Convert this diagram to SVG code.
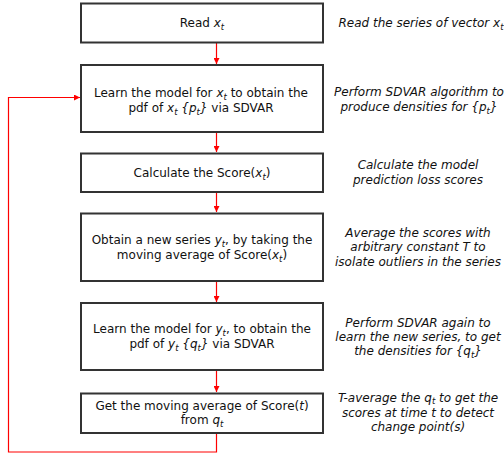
<svg xmlns="http://www.w3.org/2000/svg" width="504" height="455" viewBox="0 0 504 455">
<style>
.box{fill:#fff;stroke:#333;stroke-width:2}
text{font-family:"DejaVu Sans",Verdana,sans-serif;font-size:12px;fill:#111;text-anchor:middle}
.note{font-style:italic}
.i{font-style:italic}
.s{font-size:8.5px;font-style:italic}
.con{fill:none;stroke:#f00;stroke-width:1.2}
</style>
<defs>
<marker id="ah" viewBox="0 0 8 8" refX="8" refY="4" markerWidth="6" markerHeight="6" orient="auto" markerUnits="userSpaceOnUse">
<path d="M0,0 L8,4 L0,8 z" fill="#f00"/>
</marker>
</defs>
<g id="connectors">
<line class="con" x1="216.5" y1="43" x2="216.5" y2="64" marker-end="url(#ah)"/>
<line class="con" x1="216.5" y1="133" x2="216.5" y2="152" marker-end="url(#ah)"/>
<line class="con" x1="216.5" y1="193" x2="216.5" y2="212" marker-end="url(#ah)"/>
<line class="con" x1="216.5" y1="282" x2="216.5" y2="302" marker-end="url(#ah)"/>
<line class="con" x1="216.5" y1="371" x2="216.5" y2="392" marker-end="url(#ah)"/>
<polyline class="con" points="216.5,434 216.5,452 8.5,452 8.5,97.5 80,97.5" marker-end="url(#ah)"/>
</g>
<g id="n1">
<rect class="box" x="81" y="3.5" width="242" height="39"/>
<text x="202" y="27">Read <tspan class="i">x</tspan><tspan class="s" dy="3">t</tspan></text>
</g>
<g id="n2">
<rect class="box" x="81" y="65" width="242" height="67"/>
<text x="201" y="97">Learn the model for <tspan class="i">x</tspan><tspan class="s" dy="3">t</tspan><tspan dy="-3"> to obtain the</tspan></text>
<text x="201" y="112">pdf of <tspan class="i">x</tspan><tspan class="s" dy="3">t</tspan><tspan class="i" dy="-3"> {p</tspan><tspan class="s" dy="3">t</tspan><tspan class="i" dy="-3">}</tspan> via SDVAR</text>
</g>
<g id="n3">
<rect class="box" x="81" y="153.5" width="242" height="38.5"/>
<text x="202" y="177">Calculate the Score(<tspan class="i">x</tspan><tspan class="s" dy="3">t</tspan><tspan dy="-3">)</tspan></text>
</g>
<g id="n4">
<rect class="box" x="81" y="213.5" width="242" height="67.5"/>
<text x="202" y="244">Obtain a new series <tspan class="i">y</tspan><tspan class="s" dy="3">t</tspan><tspan dy="-3">, by taking the</tspan></text>
<text x="202" y="259">moving average of Score(<tspan class="i">x</tspan><tspan class="s" dy="3">t</tspan><tspan dy="-3">)</tspan></text>
</g>
<g id="n5">
<rect class="box" x="81" y="303" width="242" height="67"/>
<text x="202" y="333">Learn the model for <tspan class="i">y</tspan><tspan class="s" dy="3">t</tspan><tspan dy="-3">, to obtain the</tspan></text>
<text x="202" y="348">pdf of <tspan class="i">y</tspan><tspan class="s" dy="3">t</tspan><tspan class="i" dy="-3"> {q</tspan><tspan class="s" dy="3">t</tspan><tspan class="i" dy="-3">}</tspan> via SDVAR</text>
</g>
<g id="n6">
<rect class="box" x="81" y="393.5" width="242" height="39.5"/>
<text x="202" y="410">Get the moving average of Score(<tspan class="i">t</tspan>)</text>
<text x="202" y="424">from <tspan class="i">q</tspan><tspan class="s" dy="3">t</tspan></text>
</g>
<g id="notes">
<text class="note" x="421" y="27">Read the series of vector x<tspan class="s" dy="3">t</tspan></text>
<text class="note" x="419" y="96">Perform SDVAR algorithm to</text>
<text class="note" x="419" y="111">produce densities for {p<tspan class="s" dy="3">t</tspan><tspan dy="-3">}</tspan></text>
<text class="note" x="418" y="169">Calculate the model</text>
<text class="note" x="418" y="184">prediction loss scores</text>
<text class="note" x="418" y="237">Average the scores with</text>
<text class="note" x="418" y="251">arbitrary constant T to</text>
<text class="note" x="418" y="266">isolate outliers in the series</text>
<text class="note" x="418" y="327">Perform SDVAR again to</text>
<text class="note" x="418" y="341">learn the new series, to get</text>
<text class="note" x="418" y="355">the densities for {q<tspan class="s" dy="3">t</tspan><tspan dy="-3">}</tspan></text>
<text class="note" x="418" y="402">T-average the q<tspan class="s" dy="2">t</tspan><tspan dy="-2"> to get the</tspan></text>
<text class="note" x="418" y="417">scores at time t to detect</text>
<text class="note" x="418" y="431">change point(s)</text>
</g>
</svg>
